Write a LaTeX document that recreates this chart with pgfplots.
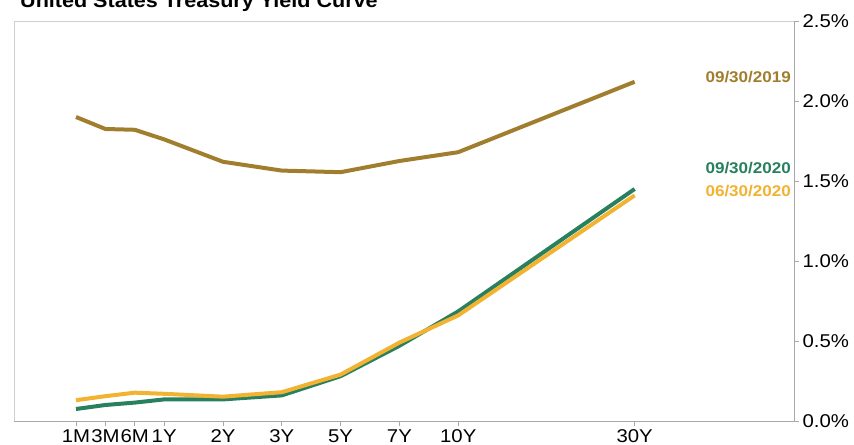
\documentclass[border=0pt]{standalone}
\usepackage{pgfplots}
\pgfplotsset{compat=1.18}
\usepackage{fontspec}
\setmainfont{Liberation Sans}[FakeStretch=1.1]
\definecolor{gold2019}{HTML}{A17E2E}
\definecolor{green2020}{HTML}{28805F}
\definecolor{yellow2020}{HTML}{F2B232}
\definecolor{axisgray}{HTML}{A8A8A8}
\definecolor{framegray}{HTML}{CFCFCF}

% maturities placed on a compressed scale: 1M=0, 3M=0.5, ... 30Y=9.5
\pgfplotstableread{
pos  sep2019 sep2020 jun2020
0.0  1.90    0.075   0.13
0.5  1.825   0.100   0.155
1.0  1.82    0.115   0.177
1.5  1.76    0.135   0.170
2.5  1.62    0.135   0.152
3.5  1.565   0.160   0.180
4.5  1.555   0.280   0.290
5.5  1.625   0.470   0.490
6.5  1.68    0.685   0.660
9.5  2.12    1.450   1.410
}\yields

\begin{document}
\begin{tikzpicture}[x=1bp,y=1bp]
\useasboundingbox (0,0) rectangle (854,445);
\clip (0,0) rectangle (854,445);
\node[anchor=base west, inner sep=0,
      font=\fontsize{19.6bp}{22bp}\selectfont\bfseries]
  at (20,437) {United States Treasury Yield Curve};
\begin{axis}[
  at={(14bp,24bp)}, anchor=south west,
  scale only axis, width=780bp, height=400bp,
  xmin=-1.054, xmax=12.21, ymin=0, ymax=2.5,
  axis x line*=bottom, axis y line*=right,
  axis line style={axisgray, line width=0.8bp},
  xtick={0,0.5,1,1.5,2.5,3.5,4.5,5.5,6.5,9.5},
  xticklabels={1M,3M,6M,1Y,2Y,3Y,5Y,7Y,10Y,30Y},
  ytick={0,0.5,1,1.5,2,2.5},
  tick align=outside, major tick length=5bp,
  tick style={axisgray, line width=0.8bp},
  /pgf/number format/assume math mode=true,
  yticklabel={\pgfmathprintnumber[fixed,fixed zerofill,precision=1]{\tick}\%},
  ticklabel style={font=\fontsize{18.5bp}{20bp}\selectfont, text=black},
  yticklabel style={anchor=west, xshift=0bp},
  xticklabel style={anchor=north, yshift=0bp},
  clip=false,
]
\draw[framegray, line width=0.8bp] (rel axis cs:1,1) -- (rel axis cs:0,1) -- (rel axis cs:0,0);
\addplot[gold2019, line width=4bp, line join=round] table[x=pos, y=sep2019] {\yields};
\addplot[green2020, line width=4bp, line join=round] table[x=pos, y=sep2020] {\yields};
\addplot[yellow2020, line width=4bp, line join=round] table[x=pos, y=jun2020] {\yields};
\node[anchor=east, inner sep=0, text=gold2019, font=\fontsize{15.5bp}{17bp}\selectfont\bfseries]
  at (axis cs:12.16,2.15) {09/30/2019};
\node[anchor=east, inner sep=0, text=green2020, font=\fontsize{15.5bp}{17bp}\selectfont\bfseries]
  at (axis cs:12.16,1.58) {09/30/2020};
\node[anchor=east, inner sep=0, text=yellow2020, font=\fontsize{15.5bp}{17bp}\selectfont\bfseries]
  at (axis cs:12.16,1.44) {06/30/2020};
\end{axis}
\end{tikzpicture}
\end{document}
